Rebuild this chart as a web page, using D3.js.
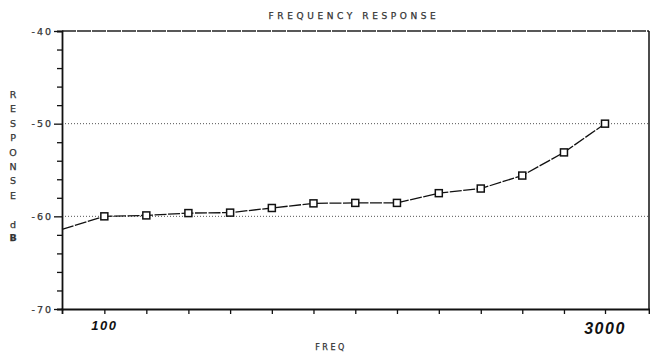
<!DOCTYPE html>
<html>
<head>
<meta charset="utf-8">
<script src="https://cdn.jsdelivr.net/npm/d3@7"></script>
<style>
  html, body { margin: 0; padding: 0; background: #fff; }
  #chart { width: 650px; height: 354px; }
  text { font-family: "DejaVu Sans", sans-serif; }
  .plot-text { fill: #333; stroke: #333; stroke-width: 0.25px; }
</style>
</head>
<body>
<div id="chart"></div>
<script>
// frequencies in Hz; the first one sits on the left axis and only carries the lead-in line
const freqs = [75, 100, 133, 177, 235, 312, 414, 550, 730, 970, 1290, 1710, 2270, 3000];
const response = [-61.4, -60.0, -59.9, -59.65, -59.6, -59.1, -58.6, -58.55, -58.55, -57.5, -57.0, -55.6, -53.1, -50.0];
const freqLabels = [100, 3000];
const yMajor = [-40, -50, -60, -70];
const yTicks = [-40, -42, -44, -46, -48, -50, -52, -54, -56, -58, -60, -62, -64, -66, -68, -70];
const gridLevels = [-50, -60];
const yTitle = ['R', 'E', 'S', 'P', 'O', 'N', 'S', 'E'];
const yUnit = ['d', 'B'];

const W = 650, H = 354;
const margin = { top: 31, right: 1, bottom: 45, left: 62 };
const width = W - margin.left - margin.right;
const height = H - margin.top - margin.bottom;

const svg = d3.select('#chart').append('svg')
  .attr('width', W)
  .attr('height', H);

const g = svg.append('g')
  .attr('transform', `translate(${margin.left},${margin.top})`);

const x = d3.scaleLog()
  .domain([75, 4045])
  .range([0, width]);

const y = d3.scaleLinear()
  .domain([-70, -40])
  .range([height, 0]);

// dotted grid lines
g.selectAll('.grid')
  .data(gridLevels)
  .enter().append('line')
  .attr('x1', 0)
  .attr('x2', width)
  .attr('y1', d => y(d))
  .attr('y2', d => y(d))
  .attr('stroke', '#555')
  .attr('stroke-width', 1)
  .attr('stroke-dasharray', '1,2');

// frame: top and right borders
g.append('line')
  .attr('x1', 0).attr('x2', width)
  .attr('y1', 0).attr('y2', 0)
  .attr('stroke', '#222').attr('stroke-width', 1.3)
  .attr('stroke-dasharray', '14,1');
g.append('line')
  .attr('x1', width).attr('x2', width)
  .attr('y1', 0).attr('y2', height)
  .attr('stroke', '#111').attr('stroke-width', 1.5);

// y axis
const yAxis = g.append('g')
  .call(d3.axisLeft(y)
    .tickValues(yTicks)
    .tickSize(5)
    .tickFormat(d => yMajor.includes(d) ? '-' + Math.abs(d) : ''));
yAxis.select('.domain').attr('stroke', '#111').attr('stroke-width', 1.8);
yAxis.selectAll('.tick line')
  .attr('stroke', '#111')
  .attr('stroke-width', 1.3)
  .attr('x2', d => yMajor.includes(d) ? -8 : -5);
yAxis.selectAll('.tick text')
  .attr('class', 'plot-text')
  .attr('x', -9)
  .style('font-size', '9.5px')
  .style('letter-spacing', '2px');

// x axis
const xAxis = g.append('g')
  .attr('transform', `translate(0,${height})`)
  .call(d3.axisBottom(x)
    .tickValues(freqs.slice(1))
    .tickSize(5)
    .tickFormat(''));
xAxis.select('.domain').attr('stroke', '#111').attr('stroke-width', 1.8);
xAxis.selectAll('.tick line').attr('stroke', '#111').attr('stroke-width', 1.3);

// hand-written frequency labels
g.selectAll('.flabel')
  .data(freqLabels)
  .enter().append('text')
  .attr('x', d => x(d))
  .attr('y', height)
  .attr('dy', d => d === 100 ? 21 : 25)
  .attr('text-anchor', 'middle')
  .attr('fill', '#111')
  .style('font-family', '"Liberation Sans", sans-serif')
  .style('font-weight', 'bold')
  .style('font-style', 'italic')
  .style('font-size', d => d === 100 ? '13px' : '16px')
  .style('letter-spacing', '1.5px')
  .text(d => d);

// response line
const line = d3.line()
  .x((d, i) => x(freqs[i]))
  .y(d => y(d));

g.append('path')
  .datum(response)
  .attr('fill', 'none')
  .attr('stroke', '#111')
  .attr('stroke-width', 1.3)
  .attr('stroke-dasharray', '12,1.5')
  .attr('d', line);

// square markers
g.selectAll('.pt')
  .data(response.slice(1))
  .enter().append('rect')
  .attr('class', 'pt')
  .attr('x', (d, i) => x(freqs[i + 1]) - 3.5)
  .attr('y', d => y(d) - 3.5)
  .attr('width', 7)
  .attr('height', 7)
  .attr('fill', '#fff')
  .attr('stroke', '#111')
  .attr('stroke-width', 1.5);

// title
svg.append('text')
  .attr('class', 'plot-text')
  .attr('x', 354)
  .attr('y', 19)
  .attr('text-anchor', 'middle')
  .style('font-size', '9px')
  .style('letter-spacing', '3.6px')
  .text('FREQUENCY RESPONSE');

// x title
svg.append('text')
  .attr('class', 'plot-text')
  .attr('x', 331)
  .attr('y', 350)
  .attr('text-anchor', 'middle')
  .style('font-size', '8px')
  .style('letter-spacing', '2.5px')
  .text('FREQ');

// stacked y title
svg.selectAll('.ylet')
  .data(yTitle)
  .enter().append('text')
  .attr('class', 'plot-text')
  .attr('x', 13)
  .attr('y', (d, i) => 98 + i * 14.4)
  .attr('text-anchor', 'middle')
  .style('font-size', '9.5px')
  .text(d => d);

svg.selectAll('.yunit')
  .data(yUnit)
  .enter().append('text')
  .attr('class', 'plot-text')
  .attr('x', 13)
  .attr('y', (d, i) => 228 + i * 13)
  .attr('text-anchor', 'middle')
  .style('font-size', '9.5px')
  .style('font-weight', d => d === 'B' ? 'bold' : 'normal')
  .text(d => d);
</script>
</body>
</html>
